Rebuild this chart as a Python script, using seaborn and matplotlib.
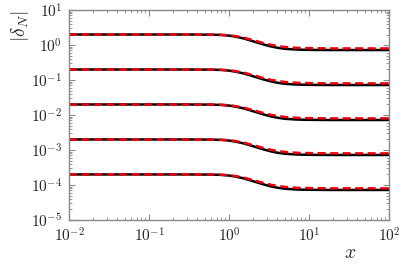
import numpy as np
import pandas as pd
import seaborn as sns
import matplotlib.pyplot as plt
from matplotlib.ticker import LogLocator, NullFormatter, FuncFormatter

# values (top curve); other curves are scaled copies
x_vals = [0.01, 0.03, 0.1, 0.3, 0.6, 0.8, 1.0, 1.2, 1.5, 1.8, 2.2, 2.7, 3.3, 4.0, 5.0, 6.5, 8.0, 12.0, 20.0, 50.0, 100.0]
black_shape = [2.0, 2.0, 2.0, 2.0, 1.98, 1.94, 1.86, 1.74, 1.56, 1.38, 1.2, 1.04, 0.92, 0.84, 0.78, 0.75, 0.735, 0.725, 0.72, 0.72, 0.72]
red_shape = [2.0, 2.0, 2.0, 2.0, 1.99, 1.96, 1.9, 1.8, 1.64, 1.47, 1.3, 1.14, 1.02, 0.94, 0.88, 0.84, 0.82, 0.81, 0.8, 0.8, 0.8]
amplitudes = [1.0, 1e-1, 1e-2, 1e-3, 1e-4]

rows = []
for i, a in enumerate(amplitudes):
    for xv, b, r in zip(x_vals, black_shape, red_shape):
        rows.append({"x": xv, "y": a * b, "kind": "exact", "curve": i})
        rows.append({"x": xv, "y": a * r, "kind": "approx", "curve": i})
df = pd.DataFrame(rows)

sns.set_style("ticks")
plt.rcParams["mathtext.fontset"] = "cm"
plt.rcParams["font.family"] = ["DejaVu Serif"]

fig = plt.figure(figsize=(4.06, 2.65), dpi=100)
ax = fig.add_axes([0.170, 0.170, 0.788, 0.792])

for i in range(len(amplitudes)):
    d = df[(df["curve"] == i) & (df["kind"] == "exact")]
    sns.lineplot(data=d, x="x", y="y", ax=ax, color="black", lw=1.8, legend=False)
    d = df[(df["curve"] == i) & (df["kind"] == "approx")]
    sns.lineplot(data=d, x="x", y="y", ax=ax, color="#e8000b", lw=1.8,
                 linestyle=(0, (3.2, 1.8)), legend=False)

ax.set_xscale("log")
ax.set_yscale("log")
ax.set_xlim(1e-2, 1e2)
ax.set_ylim(1e-5, 1e1)
pow_fmt = FuncFormatter(lambda v, p: r"$10^{%d}$" % int(round(np.log10(v))))
ax.xaxis.set_major_locator(LogLocator(base=10, numticks=10))
ax.yaxis.set_major_locator(LogLocator(base=10, numticks=10))
ax.xaxis.set_major_formatter(pow_fmt)
ax.yaxis.set_major_formatter(pow_fmt)
ax.xaxis.set_minor_locator(LogLocator(base=10, subs=np.arange(2, 10), numticks=20))
ax.yaxis.set_minor_locator(LogLocator(base=10, subs=np.arange(2, 10), numticks=20))
ax.xaxis.set_minor_formatter(NullFormatter())
ax.yaxis.set_minor_formatter(NullFormatter())
ax.tick_params(which="both", direction="in", top=True, right=True, color="#888888", labelsize=11)
ax.tick_params(which="major", length=4.5, width=0.8, pad=5)
ax.tick_params(which="minor", length=2.5, width=0.6)
for s in ax.spines.values():
    s.set_color("#888888")
    s.set_linewidth(1.0)

ax.set_xlabel("")
ax.set_ylabel("")
fig.text(0.862, 0.045, "$x$", fontsize=14, ha="center", va="center")
fig.text(0.05, 0.9, r"$|\delta_N|$", fontsize=14, ha="center", va="center", rotation=90)

fig.savefig("out.png", dpi=100)
